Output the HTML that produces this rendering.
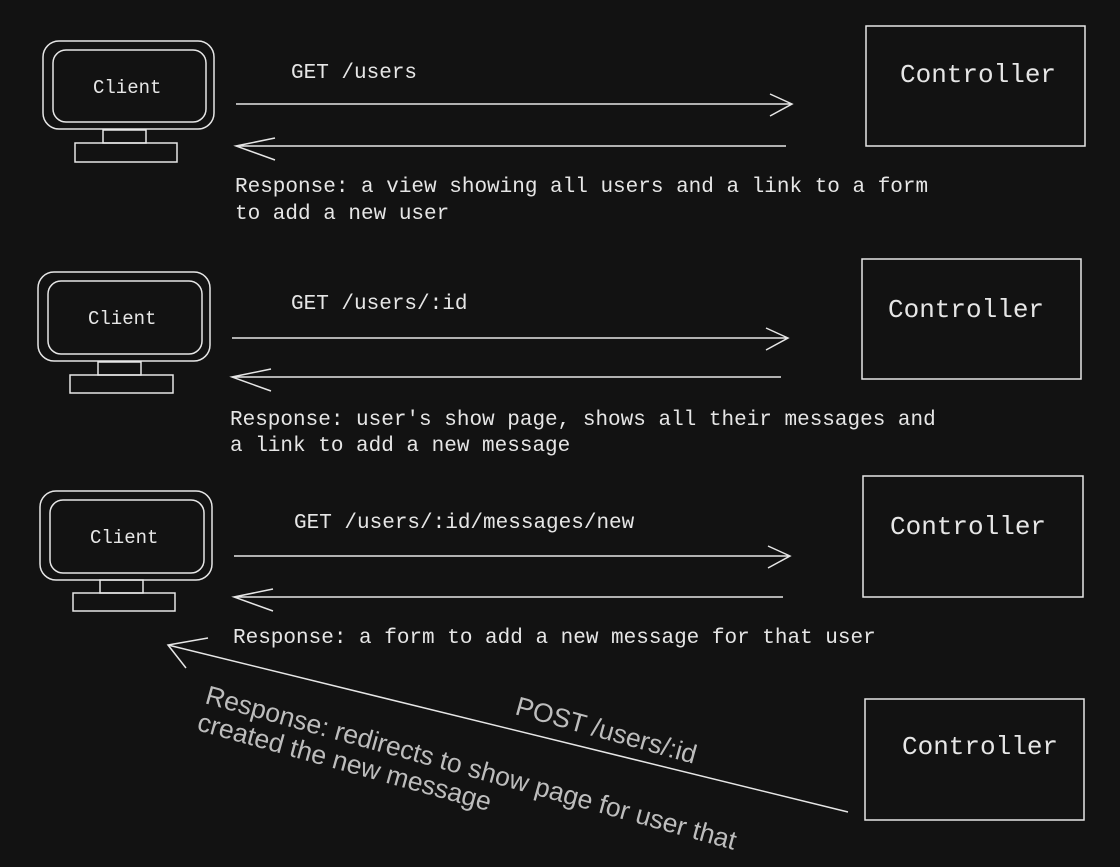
<!DOCTYPE html>
<html><head><style>html,body{margin:0;background:#121212;}svg{display:block}</style></head>
<body>
<svg width="1120" height="867" viewBox="0 0 1120 867" xmlns="http://www.w3.org/2000/svg">
<rect width="1120" height="867" fill="#121212"/>
<g fill="none" stroke="#e6e6e6" stroke-width="1.5">
<rect x="43" y="41" width="171" height="88" rx="16"/><rect x="53" y="50" width="153" height="72" rx="13"/>
<rect x="103" y="130" width="43" height="13"/><rect x="75" y="143" width="102" height="19"/>
<rect x="38" y="272" width="172" height="89" rx="16"/><rect x="48" y="281" width="154" height="73" rx="13"/>
<rect x="98" y="362" width="43" height="13"/><rect x="70" y="375" width="103" height="18"/>
<rect x="40" y="491" width="172" height="89" rx="16"/><rect x="50" y="500" width="154" height="73" rx="13"/>
<rect x="100" y="580" width="43" height="13"/><rect x="73" y="593" width="102" height="18"/>
<rect x="866" y="26" width="219" height="120"/>
<rect x="862" y="259" width="219" height="120"/>
<rect x="863" y="476" width="220" height="121"/>
<rect x="865" y="699" width="219" height="121"/>
<path d="M236 104 H792 M770 94 L792 104 L770 116"/>
<path d="M786 146 H236 M275 138 L236 146 L275 160"/>
<path d="M232 338 H788 M766 328 L788 338 L766 350"/>
<path d="M781 377 H232 M271 369 L232 377 L271 391"/>
<path d="M234 556 H790 M768 546 L790 556 L768 568"/>
<path d="M783 597 H234 M273 589 L234 597 L273 611"/>
<path d="M848 812 L168 645 M208 638 L168 645 L186 668"/>
</g>
<g font-family="Liberation Mono, monospace" fill="#e6e6e6">
<text x="93" y="93" font-size="19">Client</text>
<text x="88" y="324" font-size="19">Client</text>
<text x="90" y="543" font-size="19">Client</text>
<g font-size="26">
<text x="900" y="82">Controller</text>
<text x="888" y="317">Controller</text>
<text x="890" y="534">Controller</text>
<text x="902" y="754">Controller</text>
</g>
<g font-size="21">
<text x="291" y="78">GET /users</text>
<text x="235" y="192">Response: a view showing all users and a link to a form</text>
<text x="235" y="219">to add a new user</text>
<text x="291" y="309">GET /users/:id</text>
<text x="230" y="425">Response: user's show page, shows all their messages and</text>
<text x="230" y="451">a link to add a new message</text>
<text x="294" y="528">GET /users/:id/messages/new</text>
<text x="233" y="643">Response: a form to add a new message for that user</text>
</g>
</g>
<g font-family="Liberation Sans, sans-serif" font-size="26.5" fill="#bdbdbd">
<text transform="translate(514,714) rotate(15.5)">POST /users/:id</text>
<text transform="translate(204,703) rotate(15.5)">Response: redirects to show page for user that</text>
<text transform="translate(196,730) rotate(15.5)">created the new message</text>
</g>
</svg>
</body></html>
